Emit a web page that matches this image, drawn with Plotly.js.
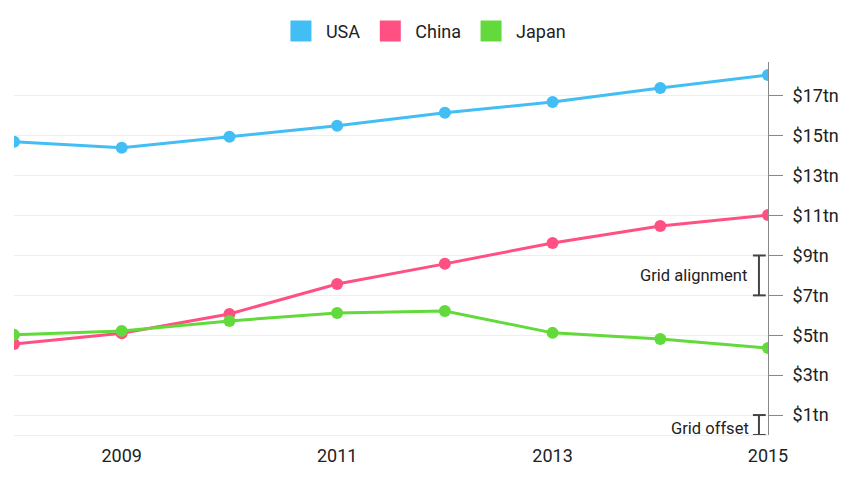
<!DOCTYPE html>
<html>
<head>
<meta charset="utf-8">
<script src="https://cdn.plot.ly/plotly-3.0.1.min.js"></script>
<style>html,body{margin:0;padding:0;background:#fff;}#chart{width:852px;height:480px;}</style>
</head>
<body>
<div id="chart"></div>
<script>
const years = [2008, 2009, 2010, 2011, 2012, 2013, 2014, 2015];
const usa   = [14.7, 14.4, 14.95, 15.5, 16.15, 16.7, 17.4, 18.05];
const china = [4.56, 5.1, 6.07, 7.57, 8.58, 9.63, 10.48, 11.03];
const japan = [5.02, 5.22, 5.72, 6.12, 6.22, 5.12, 4.81, 4.36];
const seriesNames = ['USA', 'China', 'Japan'];
const seriesColors = ['#43BEF4', '#FF5084', '#62DA3B'];
const yTickVals = [1, 3, 5, 7, 9, 11, 13, 15, 17];
const yTickText = yTickVals.map(v => '$' + v + 'tn');
const xTickVals = [2009, 2011, 2013, 2015];

const seriesData = [usa, china, japan];
const traces = [];
seriesData.forEach((vals, i) => {
  traces.push({
    x: years, y: vals, type: 'scatter', mode: 'lines+markers',
    name: seriesNames[i], showlegend: false, cliponaxis: true,
    line: {color: seriesColors[i], width: 3},
    marker: {color: seriesColors[i], size: 12}
  });
});
seriesData.forEach((vals, i) => {
  traces.push({
    x: [null], y: [null], type: 'scatter', mode: 'markers',
    name: seriesNames[i], showlegend: true,
    marker: {color: seriesColors[i], symbol: 'square', size: 16,
             line: {color: seriesColors[i], width: 5}}
  });
});

const bracketColor = '#444444';
const layout = {
  width: 852, height: 480,
  margin: {l: 14, r: 84, t: 62, b: 45},
  paper_bgcolor: '#ffffff', plot_bgcolor: '#ffffff',
  font: {family: 'Roboto, "Noto Sans", sans-serif', size: 18, color: '#222222'},
  showlegend: true,
  legend: {orientation: 'h', x: 0.497, xanchor: 'center', y: 0.935, yanchor: 'middle',
           xref: 'container', yref: 'container',
           font: {size: 18, color: '#222222'}, itemwidth: 40, bgcolor: 'rgba(0,0,0,0)'},
  xaxis: {
    range: [2008, 2015], tickvals: xTickVals, ticktext: xTickVals.map(String),
    showgrid: false, zeroline: false, showline: false, ticks: '',
    ticklabelstandoff: 8,
    tickfont: {size: 18, color: '#222222'}
  },
  yaxis: {
    side: 'right', range: [0, 18.7], tickvals: yTickVals, ticktext: yTickText,
    showgrid: true, gridcolor: '#EEEEEE', gridwidth: 1,
    zeroline: true, zerolinecolor: '#EEEEEE', zerolinewidth: 1,
    showline: true, linecolor: '#888888', linewidth: 1,
    ticks: 'outside', ticklen: 14, tickcolor: '#888888', tickwidth: 1,
    ticklabelstandoff: 6,
    tickfont: {size: 18, color: '#222222'}
  },
  shapes: [
    {type: 'line', xref: 'paper', yref: 'y', x0: 0.988, x1: 0.988, y0: 7, y1: 9, line: {color: bracketColor, width: 2}},
    {type: 'line', xref: 'paper', yref: 'y', x0: 0.980, x1: 0.997, y0: 9, y1: 9, line: {color: bracketColor, width: 2}},
    {type: 'line', xref: 'paper', yref: 'y', x0: 0.980, x1: 0.997, y0: 7, y1: 7, line: {color: bracketColor, width: 2}},
    {type: 'line', xref: 'paper', yref: 'y', x0: 0.988, x1: 0.988, y0: 0, y1: 1, line: {color: bracketColor, width: 2}},
    {type: 'line', xref: 'paper', yref: 'y', x0: 0.980, x1: 0.997, y0: 1, y1: 1, line: {color: bracketColor, width: 2}},
    {type: 'line', xref: 'paper', yref: 'y', x0: 0.980, x1: 0.997, y0: 0, y1: 0, line: {color: bracketColor, width: 2}}
  ],
  annotations: [
    {xref: 'paper', yref: 'y', x: 0.975, y: 8, text: 'Grid alignment', showarrow: false,
     xanchor: 'right', yanchor: 'middle', font: {size: 16.5, color: '#222222'}},
    {xref: 'paper', yref: 'y', x: 0.977, y: 0.35, text: 'Grid offset', showarrow: false,
     xanchor: 'right', yanchor: 'middle', font: {size: 16.5, color: '#222222'}}
  ]
};

Plotly.newPlot('chart', traces, layout, {displayModeBar: false, staticPlot: true});
</script>
</body>
</html>
